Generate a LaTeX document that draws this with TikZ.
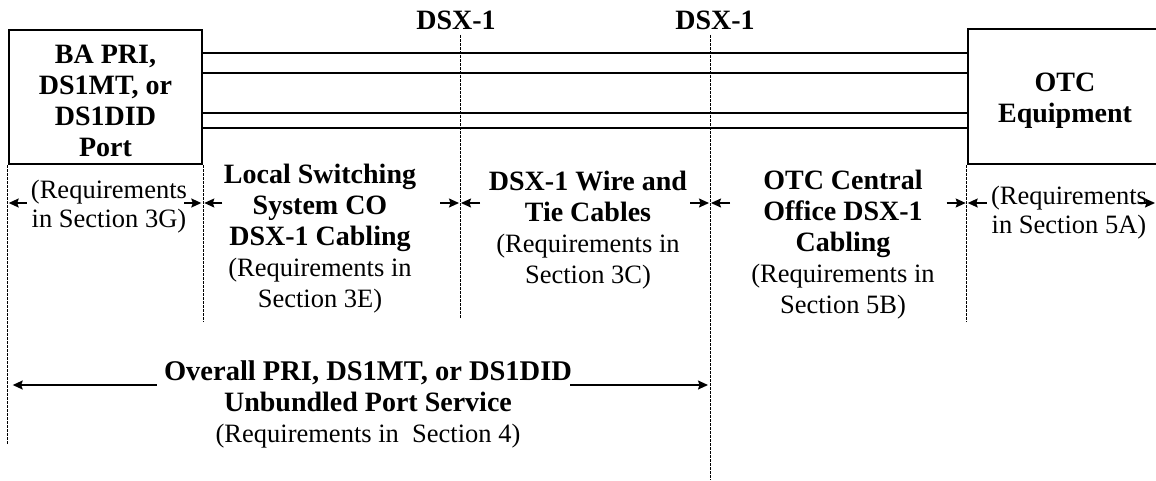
\documentclass[tikz,border=0pt]{standalone}
\usepackage{fontspec}
\setmainfont{Liberation Serif}
\usetikzlibrary{arrows.meta}
\begin{document}
\begin{tikzpicture}[x=1pt,y=-1pt,
  box/.style={draw,line width=2.6pt,inner sep=0pt,align=center,font=\bfseries\fontsize{28}{31}\selectfont},
  wire/.style={line width=2.4pt},
  guide/.style={line width=0.9pt,dash pattern=on 2.5pt off 1.5pt},
  dim/.style={line width=1.5pt,-{Stealth[length=10pt,width=9pt,inset=1.5pt]}},
  lbl/.style={inner sep=0pt,align=center,font=\fontsize{26.5}{31}\selectfont},
  sidelbl/.style={inner sep=0pt,align=center,font=\fontsize{26.5}{29}\selectfont},
  dsx/.style={inner sep=0pt,font=\bfseries\fontsize{28}{31}\selectfont}
]
\useasboundingbox (0,0) rectangle (1156,480);

% boxes
\node[box,minimum width=193pt,minimum height=134pt] (port) at (105.5,97)
  {\rule{0pt}{26pt}BA PRI,\\DS1MT, or\\DS1DID\\Port};
\node[box,minimum width=194pt,minimum height=135pt] (otc) at (1065,96.5)
  {\rule{0pt}{26pt}OTC\\Equipment};

% wires
\foreach \yy in {53,73,113,128}{
  \coordinate (h) at (0,\yy);
  \draw[wire] (port.east |- h) -- (otc.west |- h);
}

% DSX-1 labels
\node[dsx] (dsxa) at (456,20) {DSX-1};
\node[dsx] (dsxb) at (715,20) {DSX-1};

% guide coordinates
\coordinate (sA) at (460,35);
\coordinate (eA) at (460,319);
\coordinate (sB) at (710,35);
\coordinate (eB) at (710,480);
\coordinate (g0) at (0,445);
\coordinate (g1) at (0,322);

% dashed guides
\draw[guide] (port.south west) -- (port.south west |- g0);
\draw[guide] (port.south east) -- (port.south east |- g1);
\draw[guide] (sA) -- (eA);
\draw[guide] (sB) -- (eB);
\draw[guide] (otc.south west) -- (otc.south west |- g1);

% segment labels
\node[sidelbl] (req3g) at (109,207) {(Requirements\\in Section 3G)};
\node[lbl] (lss) at (320,239) {\textbf{\fontsize{28}{31}\selectfont Local Switching}\\\textbf{\fontsize{28}{31}\selectfont System CO}\\\textbf{\fontsize{28}{31}\selectfont DSX-1 Cabling}\\(Requirements in\\Section 3E)};
\node[lbl] (tie) at (588,230) {\textbf{\fontsize{28}{31}\selectfont DSX-1 Wire and}\\\textbf{\fontsize{28}{31}\selectfont Tie Cables}\\(Requirements in\\Section 3C)};
\node[lbl] (otcco) at (843,245) {\textbf{\fontsize{28}{31}\selectfont OTC Central}\\\textbf{\fontsize{28}{31}\selectfont Office DSX-1}\\\textbf{\fontsize{28}{31}\selectfont Cabling}\\(Requirements in\\Section 5B)};
\node[sidelbl] (req5a) at (1069,213) {(Requirements\\in Section 5A)};

% dimension arrows
\coordinate (r0) at (0,203);
\draw[dim] ([xshift=19pt]port.south west |- r0) -- ([xshift=1pt]port.south west |- r0);
\draw[dim] ([xshift=-19pt]port.south east |- r0) -- ([xshift=-2pt]port.south east |- r0);
\draw[dim] ([xshift=19pt]port.south east |- r0) -- ([xshift=1pt]port.south east |- r0);
\draw[dim] ([xshift=-20pt]sA |- r0) -- ([xshift=-1pt]sA |- r0);
\draw[dim] ([xshift=20pt]sA |- r0) -- ([xshift=1pt]sA |- r0);
\draw[dim] ([xshift=-20pt]sB |- r0) -- ([xshift=-1pt]sB |- r0);
\draw[dim] ([xshift=20pt]sB |- r0) -- ([xshift=1pt]sB |- r0);
\draw[dim] ([xshift=-20pt]otc.south west |- r0) -- ([xshift=-1pt]otc.south west |- r0);
\draw[dim] ([xshift=20pt]otc.south west |- r0) -- ([xshift=1pt]otc.south west |- r0);
\coordinate (rEnd) at (1155,203);
\draw[dim] ([xshift=-16pt]rEnd) -- (rEnd);

% overall
\node[lbl] (ov) at (368,404) {\textbf{\fontsize{28.5}{31}\selectfont Overall PRI, DS1MT, or DS1DID}\\\textbf{\fontsize{28}{31}\selectfont Unbundled Port Service}\\(Requirements in\ \ Section 4)};
\coordinate (yov) at (0,385);
\draw[dim] ([xshift=-7pt]ov.west |- yov) -- ([xshift=5pt]port.south west |- yov);
\draw[dim] ([xshift=-2pt]ov.east |- yov) -- ([xshift=-2pt]eB |- yov);
\end{tikzpicture}
\end{document}
